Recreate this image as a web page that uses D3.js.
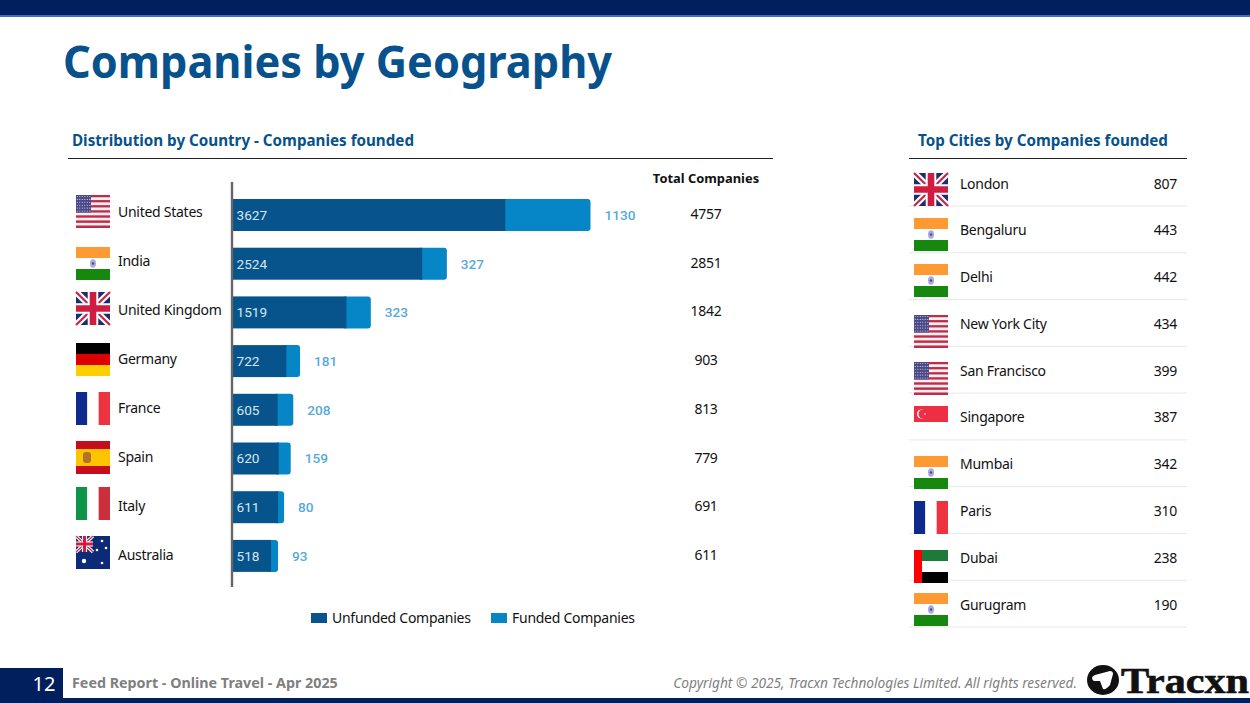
<!DOCTYPE html>
<html>
<head>
<meta charset="utf-8">
<script src="https://cdn.jsdelivr.net/npm/d3@7"></script>
<style>
  html, body { margin: 0; padding: 0; background: #fff; overflow: hidden; }
  text { font-family: "Noto Sans", "Open Sans", sans-serif; }
  .body-text { font-size: 14px; letter-spacing: -0.27px; fill: #111; }
</style>
</head>
<body>
<svg id="chart" width="1250" height="703"></svg>
<script>
// Chart data
const countries = ['United States', 'India', 'United Kingdom', 'Germany', 'France', 'Spain', 'Italy', 'Australia'];
const countryFlags = ['us', 'in', 'uk', 'de', 'fr', 'es', 'it', 'au'];
const unfunded = [3627, 2524, 1519, 722, 605, 620, 611, 518];
const funded = [1130, 327, 323, 181, 208, 159, 80, 93];
const totals = [4757, 2851, 1842, 903, 813, 779, 691, 611];

const cities = ['London', 'Bengaluru', 'Delhi', 'New York City', 'San Francisco', 'Singapore', 'Mumbai', 'Paris', 'Dubai', 'Gurugram'];
const cityFlags = ['uk', 'in', 'in', 'us', 'us', 'sg', 'in', 'fr', 'ae', 'in'];
const cityCounts = [807, 443, 442, 434, 399, 387, 342, 310, 238, 190];

const NAVY = '#001f5c';
const DARK = '#07548c';
const LIGHT = '#0686c6';
const HEAD = '#07518c';

const svg = d3.select('#chart');

// Slight softening, the flags in the slide are scaled bitmaps
const blur = svg.append('defs').append('filter').attr('id', 'soft');
blur.append('feGaussianBlur').attr('stdDeviation', 0.35);

// Page furniture
svg.append('rect').attr('width', 1250).attr('height', 15).attr('fill', NAVY);
svg.append('rect').attr('y', 15).attr('width', 1250).attr('height', 2).attr('fill', '#3f6fc0');
svg.append('rect').attr('y', 698).attr('width', 1250).attr('height', 5).attr('fill', NAVY);
svg.append('rect').attr('y', 668).attr('width', 63).attr('height', 35).attr('fill', NAVY);

svg.append('text').attr('x', 63).attr('y', 77.5)
    .attr('font-size', 45).attr('font-weight', 700).attr('fill', HEAD)
    .attr('textLength', 549).attr('lengthAdjust', 'spacingAndGlyphs')
    .text('Companies by Geography');

svg.append('text').attr('x', 72).attr('y', 146)
    .attr('font-size', 15.2).attr('font-weight', 700).attr('fill', HEAD)
    .text('Distribution by Country - Companies founded');
svg.append('line').attr('x1', 68).attr('x2', 773).attr('y1', 158.5).attr('y2', 158.5).attr('stroke', '#222');

svg.append('text').attr('x', 918).attr('y', 146)
    .attr('font-size', 15.2).attr('font-weight', 700).attr('fill', HEAD)
    .text('Top Cities by Companies founded');
svg.append('line').attr('x1', 909).attr('x2', 1187).attr('y1', 158.5).attr('y2', 158.5).attr('stroke', '#222');

// Flags, drawn in a 34x33 box
function stripes(g, colors, vertical) {
    const n = colors.length;
    colors.forEach((c, i) => {
        const r = g.append('rect').attr('fill', c);
        if (vertical) r.attr('x', i * 34 / n).attr('width', 34 / n).attr('height', 33);
        else r.attr('y', i * 33 / n).attr('width', 34).attr('height', 33 / n);
    });
}

function unionJack(g, w, h) {
    g.append('rect').attr('width', w).attr('height', h).attr('fill', '#1f2f6e');
    const diag = `M0,0L${w},${h}M${w},0L0,${h}`;
    g.append('path').attr('d', diag).attr('stroke', '#fff').attr('stroke-width', h * 0.2);
    g.append('path').attr('d', diag).attr('stroke', '#c8284a').attr('stroke-width', h * 0.07);
    const cross = `M${w / 2},0V${h}M0,${h / 2}H${w}`;
    g.append('path').attr('d', cross).attr('stroke', '#fff').attr('stroke-width', h * 0.32);
    g.append('path').attr('d', cross).attr('stroke', '#cf1f3f').attr('stroke-width', h * 0.2);
}

const flagDrawers = {
    us(g) {
        d3.range(13).forEach(i => g.append('rect')
            .attr('y', i * 33 / 13).attr('width', 34).attr('height', 33 / 13)
            .attr('fill', i % 2 ? '#f4f2f4' : '#c22a45'));
        g.append('rect').attr('width', 15).attr('height', 17.5).attr('fill', '#4a4a88');
        d3.range(6).forEach(a => d3.range(6).forEach(b => g.append('circle')
            .attr('cx', 1.3 + a * 2.5).attr('cy', 1.5 + b * 2.9).attr('r', 0.55).attr('fill', '#d8d8ea')));
    },
    in(g) {
        g.append('rect').attr('width', 34).attr('height', 11).attr('fill', '#ff9a33');
        g.append('rect').attr('y', 22).attr('width', 34).attr('height', 11).attr('fill', '#138808');
        g.append('ellipse').attr('cx', 17).attr('cy', 16.5).attr('rx', 3).attr('ry', 4.2).attr('fill', '#a9a9de');
        g.append('circle').attr('cx', 17).attr('cy', 16.5).attr('r', 1.2).attr('fill', '#4a4a9c');
    },
    uk(g) { unionJack(g, 34, 33); },
    de(g) { stripes(g, ['#000', '#dd0000', '#ffce00'], false); },
    fr(g) { stripes(g, ['#0c2a8c', '#fff', '#ef3340'], true); },
    it(g) { stripes(g, ['#0d9448', '#fff', '#cd2e3a'], true); },
    es(g) {
        g.append('rect').attr('width', 34).attr('height', 33).attr('fill', '#c60b1e');
        g.append('rect').attr('y', 8).attr('width', 34).attr('height', 17).attr('fill', '#ffc400');
        g.append('rect').attr('x', 7).attr('y', 11).attr('width', 8).attr('height', 11).attr('rx', 3).attr('fill', '#b5702a');
    },
    au(g) {
        g.append('rect').attr('width', 34).attr('height', 33).attr('fill', '#0b2a78');
        unionJack(g.append('g'), 17, 16);
        [[8, 25, 2.2], [26, 5, 1.3], [21, 14, 1.3], [30, 12, 1.3], [26, 27, 1.3]].forEach(s =>
            g.append('circle').attr('cx', s[0]).attr('cy', s[1]).attr('r', s[2]).attr('fill', '#fff'));
    },
    sg(g) {
        g.append('rect').attr('width', 34).attr('height', 16).attr('fill', '#ee2d42');
        g.append('circle').attr('cx', 7.5).attr('cy', 8).attr('r', 4.5).attr('fill', '#fff');
        g.append('circle').attr('cx', 9).attr('cy', 8).attr('r', 4.5).attr('fill', '#ee2d42');
        g.append('circle').attr('cx', 11).attr('cy', 8).attr('r', 0.8).attr('fill', '#fff');
    },
    ae(g) {
        g.append('rect').attr('x', 8).attr('width', 26).attr('height', 11).attr('fill', '#1a7a3a');
        g.append('rect').attr('x', 8).attr('y', 22).attr('width', 26).attr('height', 11).attr('fill', '#000');
        g.append('rect').attr('width', 8).attr('height', 33).attr('fill', '#f00');
    }
};

function drawFlag(code, x, y) {
    const g = svg.append('g').attr('transform', `translate(${x},${y})`).attr('filter', 'url(#soft)');
    flagDrawers[code](g);
}

// Country bar chart
const x = d3.scaleLinear().domain([0, 4757]).range([232, 590.5]);
const y = d3.scaleBand().domain(countries).range([182.3, 588.6]).padding(0.343);
const rowY = c => y(c) + y.bandwidth() / 2;
// the text columns sit on their own slightly different rhythm
const nameY = d3.scalePoint().domain(countries).range([212, 555]);
const totalY = d3.scalePoint().domain(countries).range([214, 555]);

const rows = countries.map((c, i) => ({
    name: c, flag: countryFlags[i], unfunded: unfunded[i], funded: funded[i], total: totals[i]
}));

// Funded part first, with rounded right end, then the unfunded part over it
svg.append('g').selectAll('rect')
    .data(rows)
    .enter()
    .append('rect')
    .attr('x', d => x(d.unfunded) - 4)
    .attr('y', d => y(d.name))
    .attr('width', d => x(d.unfunded + d.funded) - x(d.unfunded) + 4)
    .attr('height', y.bandwidth())
    .attr('rx', 3)
    .attr('fill', LIGHT);

svg.append('g').selectAll('rect')
    .data(rows)
    .enter()
    .append('rect')
    .attr('x', x(0))
    .attr('y', d => y(d.name))
    .attr('width', d => x(d.unfunded) - x(0))
    .attr('height', y.bandwidth())
    .attr('fill', DARK);

svg.append('line').attr('x1', 232).attr('x2', 232).attr('y1', 182).attr('y2', 587)
    .attr('stroke', '#666').attr('stroke-width', 2.4);

svg.append('g').selectAll('text')
    .data(rows)
    .enter()
    .append('text')
    .attr('x', 236.5)
    .attr('y', d => rowY(d.name))
    .attr('dy', '0.36em')
    .style('font-family', 'Roboto')
    .attr('font-size', 13.6)
    .attr('fill', '#d5e6f2')
    .text(d => d.unfunded);

svg.append('g').selectAll('text')
    .data(rows)
    .enter()
    .append('text')
    .attr('x', d => x(d.total) + 14)
    .attr('y', d => rowY(d.name))
    .attr('dy', '0.36em')
    .style('font-family', 'Roboto')
    .attr('font-size', 13.6)
    .attr('font-weight', 500)
    .attr('fill', '#55aadb')
    .text(d => d.funded);

svg.append('g').selectAll('text')
    .data(rows)
    .enter()
    .append('text')
    .attr('class', 'body-text')
    .attr('x', 118)
    .attr('y', d => nameY(d.name))
    .attr('dy', '0.36em')
    .text(d => d.name);

svg.append('g').selectAll('text')
    .data(rows)
    .enter()
    .append('text')
    .attr('class', 'body-text')
    .attr('x', 706)
    .attr('y', d => totalY(d.name))
    .attr('dy', '0.36em')
    .attr('text-anchor', 'middle')
    .text(d => d.total);

svg.append('text').attr('x', 706).attr('y', 183).attr('text-anchor', 'middle')
    .attr('font-size', 12.9).attr('font-weight', 700).attr('fill', '#111')
    .text('Total Companies');

const countryFlagTops = [195, 247, 292, 343, 392, 441, 487, 536];
rows.forEach((d, i) => drawFlag(d.flag, 76, countryFlagTops[i]));

// Legend
const legendItems = [
    { label: 'Unfunded Companies', color: DARK, x: 311 },
    { label: 'Funded Companies', color: LIGHT, x: 491 }
];
const legend = svg.append('g').selectAll('g')
    .data(legendItems)
    .enter()
    .append('g')
    .attr('transform', d => `translate(${d.x},613)`);
legend.append('rect').attr('width', 16).attr('height', 10).attr('fill', d => d.color);
legend.append('text').attr('class', 'body-text').attr('x', 21).attr('y', 5).attr('dy', '0.36em')
    .text(d => d.label);

// City table
const cityY = d3.scalePoint().domain(cities).range([183.5, 604.5]);

svg.append('g').selectAll('line')
    .data(cities)
    .enter()
    .append('line')
    .attr('x1', 909).attr('x2', 1187)
    .attr('y1', d => cityY(d) + 22.5).attr('y2', d => cityY(d) + 22.5)
    .attr('stroke', '#e8e8e8');

svg.append('g').selectAll('text')
    .data(cities)
    .enter()
    .append('text')
    .attr('class', 'body-text')
    .attr('x', 960)
    .attr('y', d => cityY(d))
    .attr('dy', '0.36em')
    .text(d => d);

svg.append('g').selectAll('text')
    .data(cities)
    .enter()
    .append('text')
    .attr('class', 'body-text')
    .attr('x', 1177)
    .attr('y', d => cityY(d))
    .attr('dy', '0.36em')
    .attr('text-anchor', 'end')
    .text((d, i) => cityCounts[i]);

const cityFlagTops = [173, 218, 264, 315, 362, 406, 456, 501, 550, 593];
cities.forEach((c, i) => drawFlag(cityFlags[i], 914, cityFlagTops[i]));

// Footer
svg.append('text').attr('x', 44).attr('y', 691).attr('text-anchor', 'middle')
    .attr('font-size', 20).attr('fill', '#fff').text('12');
svg.append('text').attr('x', 72).attr('y', 688)
    .attr('font-size', 14.3).attr('font-weight', 700).attr('fill', '#7f7f7f')
    .text('Feed Report - Online Travel - Apr 2025');
svg.append('text').attr('x', 1077).attr('y', 688).attr('text-anchor', 'end')
    .attr('font-size', 13.7).attr('font-style', 'italic').attr('fill', '#7f7f7f')
    .text('Copyright © 2025, Tracxn Technologies Limited. All rights reserved.');

// Tracxn logo
svg.append('ellipse').attr('cx', 1103).attr('cy', 680).attr('rx', 16).attr('ry', 15).attr('fill', '#111');
svg.append('path').attr('d', 'M1092,678Q1092,676 1095,675L1110,671Q1113,671 1113,674L1110,685Q1106,690 1103,689L1100,681L1094,681Q1092,680 1092,678Z')
    .attr('fill', '#fff');
svg.append('text').attr('x', 1121).attr('y', 693)
    .style('font-family', '"Liberation Serif"')
    .attr('font-size', 36).attr('font-weight', 700).attr('fill', '#111')
    .attr('stroke', '#111').attr('stroke-width', 0.6)
    .attr('textLength', 128).attr('lengthAdjust', 'spacingAndGlyphs')
    .text('Tracxn');
</script>
</body>
</html>
